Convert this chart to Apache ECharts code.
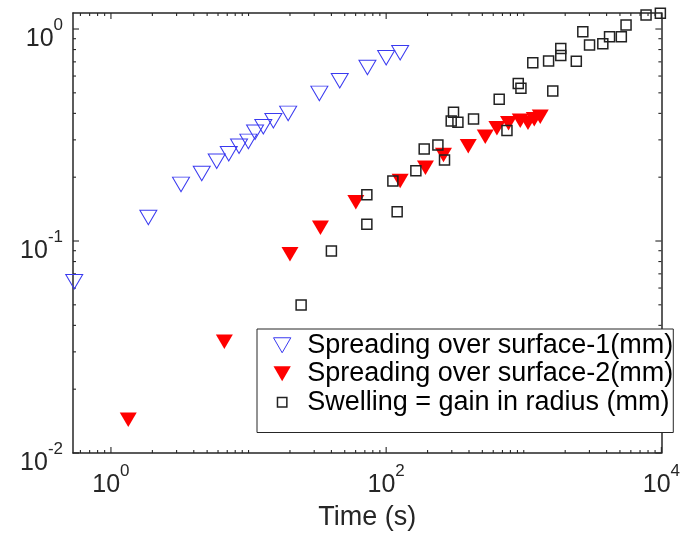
<!DOCTYPE html>
<html>
<head>
<meta charset="utf-8">
<script src="https://cdn.jsdelivr.net/npm/echarts@6/dist/echarts.min.js"></script>
<style>
html,body{margin:0;padding:0;background:#fff;}
#c{width:683px;height:539px;}
</style>
</head>
<body>
<div id="c"></div>
<script>
// ---- data ----
const seriesNames = ['Spreading over surface-1(mm)', 'Spreading over surface-2(mm)', 'Swelling = gain in radius (mm)'];

const surf1Time = [0.541, 1.87, 3.23, 4.57, 5.87, 7.18, 8.53, 9.97, 11.15, 12.8, 15.15, 19.4, 32.7, 46.0, 73.1, 100, 126.4];
const surf1Val  = [0.0643, 0.129, 0.185, 0.208, 0.238, 0.258, 0.280, 0.295, 0.326, 0.346, 0.369, 0.400, 0.497, 0.570, 0.658, 0.732, 0.773];

const surf2Time = [1.336, 6.67, 20.0, 33.3, 60.2, 126.4, 193, 261, 395, 525, 638, 775, 943, 1073, 1192, 1318];
const surf2Val  = [0.01436, 0.0335, 0.0866, 0.1155, 0.1522, 0.1919, 0.2217, 0.2544, 0.2797, 0.3105, 0.340, 0.359, 0.3694, 0.3614, 0.375, 0.3858];

const swellTime = [24.1, 40.0, 72.4, 72.4, 120.2, 111.9, 164.4, 189, 237.7, 265.5, 308.7, 297, 332.3, 431.5, 663, 755, 912, 954, 1163, 1515, 1625, 1858, 1858, 2409, 2686, 3006, 3754, 4201, 5117, 5538, 7739, 9833];
const swellVal  = [0.0499, 0.0897, 0.1199, 0.1654, 0.1374, 0.1919, 0.2146, 0.2716, 0.2836, 0.2410, 0.4046, 0.3681, 0.3630, 0.3762, 0.466, 0.332, 0.5533, 0.5252, 0.6935, 0.7064, 0.510, 0.809, 0.750, 0.704, 0.971, 0.8405, 0.8515, 0.919, 0.919, 1.044, 1.164, 1.186];

const xRange = [0.53, 10000];
const yRange = [0.01, 1.19];
const xLabelPowers = [0, 2, 4];
const yLabelPowers = [-2, -1, 0];
const xMajorTicks = [1, 100, 10000];
const yMajorTicks = [0.01, 0.1, 1];
const xTitle = 'Time (s)';

// ---- helpers ----
const FONT = "'Liberation Sans', Arial, Helvetica, sans-serif";
const AX = '#262626';
function zip(a, b) { return a.map((v, i) => [v, b[i]]); }
function isPow(v, list) {
  const l = Math.log10(v), e = Math.round(l);
  return Math.abs(l - e) < 1e-6 && list.indexOf(e) >= 0 ? e : null;
}
function ticksIn(range, majors) {
  const out = [];
  for (let n = -3; n <= 4; n++) {
    for (let k = 1; k <= 9; k++) {
      const v = +(k * Math.pow(10, n)).toPrecision(6);
      if (v >= range[0] * 0.9999 && v <= range[1] * 1.0001) {
        const major = majors.some(m => Math.abs(m - v) / m < 1e-6) ? 1 : 0;
        out.push([v, major]);
      }
    }
  }
  return out;
}
const xTicks = ticksIn(xRange, xMajorTicks);
const yTicks = ticksIn(yRange, yMajorTicks);

const triDown = 'path://M0,0L10,0L5,8.66Z';
const sqIcon = 'path://M0,0M16,16M3,3L13,3L13,13L3,13Z';

const richX = {
  b: { fontSize: 25, lineHeight: 35, verticalAlign: 'bottom', fontFamily: FONT, color: AX },
  s: { fontSize: 17, lineHeight: 17, verticalAlign: 'top', fontFamily: FONT, color: AX }
};

function tickRender(isX) {
  return function (params, api) {
    const v = api.value(isX ? 0 : 1);
    const major = api.value(2);
    const len = major ? 6 : 3;
    const style = { stroke: AX, lineWidth: 1.1 };
    let a, b;
    if (isX) {
      a = api.coord([v, yRange[0]]); b = api.coord([v, yRange[1]]);
      return { type: 'group', children: [
        { type: 'line', shape: { x1: a[0], y1: a[1], x2: a[0], y2: a[1] - len }, style },
        { type: 'line', shape: { x1: b[0], y1: b[1], x2: b[0], y2: b[1] + len }, style }
      ]};
    } else {
      a = api.coord([xRange[0], v]); b = api.coord([xRange[1], v]);
      return { type: 'group', children: [
        { type: 'line', shape: { x1: a[0], y1: a[1], x2: a[0] + len, y2: a[1] }, style },
        { type: 'line', shape: { x1: b[0], y1: b[1], x2: b[0] - len, y2: b[1] }, style }
      ]};
    }
  };
}

const axisLine = { show: true, onZero: false, lineStyle: { color: AX, width: 1.5 } };

const option = {
  animation: false,
  backgroundColor: '#fff',
  grid: { left: 73, right: 21, top: 13, bottom: 86, containLabel: false },
  xAxis: [
    {
      type: 'log', logBase: 10, min: xRange[0], max: xRange[1], position: 'bottom',
      axisLine, axisTick: { show: false }, splitLine: { show: false }, minorTick: { show: false },
      axisLabel: {
        show: true, margin: 10, hideOverlap: false, showMinLabel: true, showMaxLabel: true,
        formatter: v => { const e = isPow(v, xLabelPowers); return e === null ? '' : '{b|10}{s|' + e + '}'; },
        rich: richX
      },
      name: xTitle, nameLocation: 'middle', nameGap: 51,
      nameTextStyle: { fontSize: 27, fontFamily: FONT, color: AX }
    },
    {
      type: 'log', logBase: 10, min: xRange[0], max: xRange[1], position: 'top',
      axisLine, axisTick: { show: false }, splitLine: { show: false }, axisLabel: { show: false }
    }
  ],
  yAxis: [
    {
      type: 'log', logBase: 10, min: yRange[0], max: yRange[1], position: 'left',
      axisLine, axisTick: { show: false }, splitLine: { show: false },
      axisLabel: {
        show: true, margin: 10, padding: [10, 0, 0, 0], hideOverlap: false, showMinLabel: true, showMaxLabel: true,
        formatter: v => { const e = isPow(v, yLabelPowers); return e === null ? '' : '{b|10}{s|' + e + '}'; },
        rich: richX
      }
    },
    {
      type: 'log', logBase: 10, min: yRange[0], max: yRange[1], position: 'right',
      axisLine, axisTick: { show: false }, splitLine: { show: false }, axisLabel: { show: false }
    }
  ],
  legend: {
    orient: 'vertical', left: 257, top: 329, padding: [2, 0, 16, 16],
    itemWidth: 40, itemHeight: 15, itemGap: 0,
    backgroundColor: '#fff', borderColor: AX, borderWidth: 1, borderRadius: 0,
    selectedMode: false,
    textStyle: { fontSize: 27, fontFamily: FONT, color: '#000', lineHeight: 28.5 },
    data: [
      { name: seriesNames[0], icon: triDown, itemStyle: { color: 'rgba(0,0,0,0)', borderColor: '#3a3af0', borderWidth: 1, opacity: 1 } },
      { name: seriesNames[1], icon: triDown, itemStyle: { color: '#ff0000', borderWidth: 0, opacity: 1 } },
      { name: seriesNames[2], icon: sqIcon, itemStyle: { color: 'rgba(0,0,0,0)', borderColor: '#222', borderWidth: 1.5, opacity: 1 } }
    ]
  },
  series: [
    {
      type: 'custom', name: 'xticks', xAxisIndex: 0, yAxisIndex: 0, silent: true, z: 1,
      data: xTicks.map(t => [t[0], 1, t[1]]), renderItem: tickRender(true), clip: false
    },
    {
      type: 'custom', name: 'yticks', xAxisIndex: 0, yAxisIndex: 0, silent: true, z: 1,
      data: yTicks.map(t => [1, t[0], t[1]]), renderItem: tickRender(false), clip: false
    },
    {
      type: 'scatter', name: seriesNames[0], xAxisIndex: 0, yAxisIndex: 0, z: 3, clip: false,
      symbol: triDown, symbolSize: [17, 14.5],
      itemStyle: { color: 'rgba(0,0,0,0)', borderColor: '#3a3af0', borderWidth: 1, opacity: 1 },
      data: zip(surf1Time, surf1Val)
    },
    {
      type: 'scatter', name: seriesNames[1], xAxisIndex: 0, yAxisIndex: 0, z: 4, clip: false,
      symbol: triDown, symbolSize: [17, 14.5],
      itemStyle: { color: '#ff0000', borderWidth: 0, opacity: 1 },
      data: zip(surf2Time, surf2Val)
    },
    {
      type: 'scatter', name: seriesNames[2], xAxisIndex: 0, yAxisIndex: 0, z: 5, clip: false,
      symbol: 'rect', symbolSize: 10,
      itemStyle: { color: 'rgba(0,0,0,0)', borderColor: '#222', borderWidth: 1.5, opacity: 1 },
      data: zip(swellTime, swellVal)
    }
  ]
};

const chart = echarts.init(document.getElementById('c'), null, { renderer: 'canvas' });
chart.setOption(option);
</script>
</body>
</html>
